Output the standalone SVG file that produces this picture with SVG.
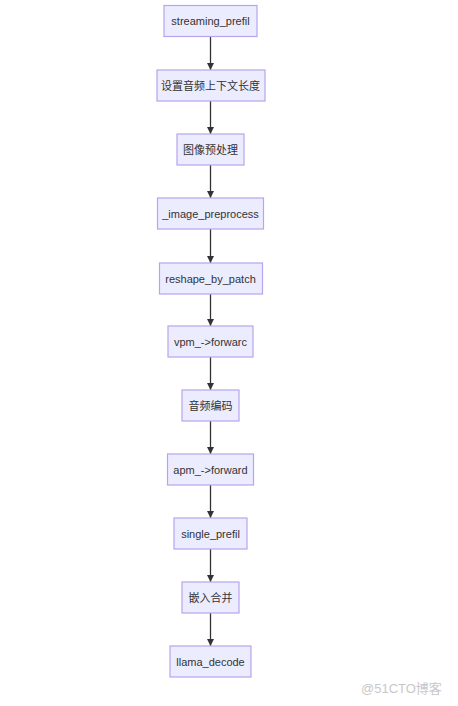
<svg xmlns="http://www.w3.org/2000/svg" width="458" height="706" viewBox="0 0 458 706">
<defs>
<marker id="arr" viewBox="0 0 10 10" refX="10" refY="5" markerWidth="7" markerHeight="7" markerUnits="userSpaceOnUse" orient="auto">
<path d="M0,0 L10,5 L0,10 z" fill="#333333"/>
</marker>
<style>
.n rect{fill:#ECECFF;stroke:#B8A3EE;stroke-width:1.2}
.n text{font-family:"Liberation Sans","Noto Sans CJK SC",sans-serif;font-size:11px;fill:#333333;text-anchor:middle;dominant-baseline:central}
.e line{stroke:#333333;stroke-width:1.3;marker-end:url(#arr)}
.wm{font-family:"Liberation Sans","Noto Sans CJK SC",sans-serif;font-size:13px;fill:#c8c8c8}
</style>
</defs>
<rect width="458" height="706" fill="#ffffff"/>
<g id="connectors" class="e">
<line x1="210.5" y1="37" x2="210.5" y2="70"/>
<line x1="210.5" y1="101" x2="210.5" y2="134"/>
<line x1="210.5" y1="165" x2="210.5" y2="198"/>
<line x1="210.5" y1="229" x2="210.5" y2="263"/>
<line x1="210.5" y1="294" x2="210.5" y2="326"/>
<line x1="210.5" y1="357" x2="210.5" y2="390"/>
<line x1="210.5" y1="421" x2="210.5" y2="454"/>
<line x1="210.5" y1="485" x2="210.5" y2="518"/>
<line x1="210.5" y1="549" x2="210.5" y2="582"/>
<line x1="210.5" y1="613" x2="210.5" y2="646"/>
</g>
<g id="n1" class="n"><rect x="164" y="5.5" width="93" height="31"/><text x="210.5" y="21">streaming_prefil</text></g>
<g id="n2" class="n"><rect x="157" y="70" width="108" height="31"/><text x="210.5" y="85.5">设置音频上下文长度</text></g>
<g id="n3" class="n"><rect x="177" y="134" width="67" height="31"/><text x="210.5" y="149.5">图像预处理</text></g>
<g id="n4" class="n"><rect x="157.5" y="198" width="106" height="31"/><text x="210.5" y="213.5">_image_preprocess</text></g>
<g id="n5" class="n"><rect x="159.5" y="263" width="103" height="31"/><text x="210.5" y="278.5">reshape_by_patch</text></g>
<g id="n6" class="n"><rect x="168" y="326" width="85" height="31"/><text x="210.5" y="341.5">vpm_-&gt;forwarc</text></g>
<g id="n7" class="n"><rect x="182" y="390" width="57" height="31"/><text x="210.5" y="405.5">音频编码</text></g>
<g id="n8" class="n"><rect x="167.5" y="454" width="86" height="31"/><text x="210.5" y="469.5">apm_-&gt;forward</text></g>
<g id="n9" class="n"><rect x="174" y="518" width="73" height="31"/><text x="210.5" y="533.5">single_prefil</text></g>
<g id="n10" class="n"><rect x="182" y="582" width="57" height="31"/><text x="210.5" y="597.5">嵌入合并</text></g>
<g id="n11" class="n"><rect x="170" y="646" width="81" height="31"/><text x="210.5" y="661.5">llama_decode</text></g>
<text class="wm" x="361" y="693">@51CTO博客</text>
</svg>
